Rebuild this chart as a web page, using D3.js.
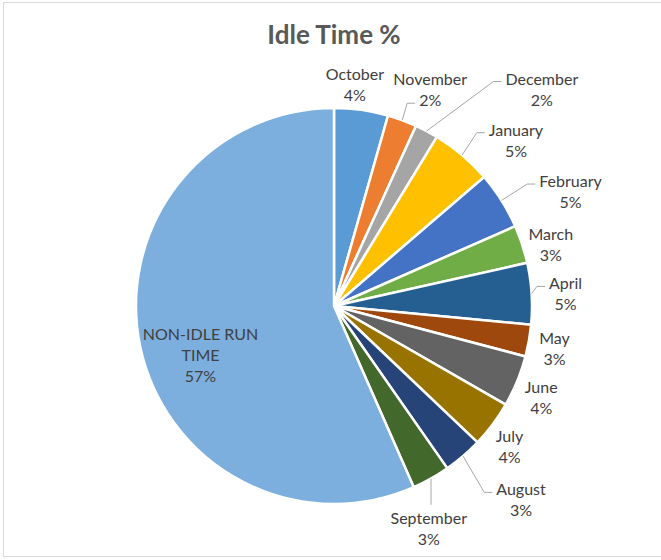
<!DOCTYPE html>
<html>
<head>
<meta charset="utf-8">
<script src="https://cdn.jsdelivr.net/npm/d3@7"></script>
<style>
  body { margin: 0; background: #fff; }
  .lbl { font-family: Lato, "Open Sans", sans-serif; font-size: 16px; fill: #404040; }
</style>
</head>
<body>
<div class="chart"></div>
<script>
// data (percent of total time)
var categories = ['October', 'November', 'December', 'January', 'February', 'March',
    'April', 'May', 'June', 'July', 'August', 'September', 'NON-IDLE RUN TIME'];
var values = [4.4, 2.4, 1.9, 5.0, 4.7, 3.1, 5.0, 2.6, 4.2, 3.8, 3.2, 3.1, 56.6];
var colors = ['#5B9BD5', '#ED7D31', '#A5A5A5', '#FFC000', '#4472C4', '#70AD47',
    '#255E91', '#9E480E', '#636363', '#997300', '#264478', '#43682B', '#7CAFDD'];

// label nudges (layout only), dx/dy from default radial spot
var labelShift = [[-10, 0], [19, -6], [103, -19], [37, 5], [47, 5], [4, 8],
    [8, 2], [0, 3], [0, 6], [-4, 7], [41, 24], [-15, 27], [6, 20]];

var svgWidth = 661;
var svgHeight = 560;
var cx = 334, cy = 306, radius = 198;

var svg = d3.select('.chart')
    .append('svg')
    .attr('width', svgWidth)
    .attr('height', svgHeight);

// chart frame
svg.append('rect')
    .attr('x', 3.5).attr('y', 2.5)
    .attr('width', 670).attr('height', 554)
    .attr('fill', 'none')
    .attr('stroke', '#D9D9D9');

// title
svg.append('text')
    .attr('x', cx)
    .attr('y', 44)
    .attr('text-anchor', 'middle')
    .style('font-family', 'Lato, "Open Sans", sans-serif')
    .style('font-weight', 'bold')
    .style('font-size', '26px')
    .style('fill', '#595959')
    .text('Idle Time %');

var pie = d3.pie().sort(null).value(function(d) { return d; });
var arcs = pie(values);
var arc = d3.arc().innerRadius(0).outerRadius(radius);

var chart = svg.append('g')
    .attr('transform', 'translate(' + cx + ',' + cy + ')');

chart.selectAll('path')
    .data(arcs)
    .enter()
    .append('path')
    .attr('d', arc)
    .attr('fill', function(d, i) { return colors[i]; })
    .attr('stroke', '#fff')
    .attr('stroke-width', 2.5)
    .attr('stroke-linejoin', 'round');

var total = d3.sum(values);
var lineH = 21;

function midAngle(d) { return (d.startAngle + d.endAngle) / 2; }

// labels
var labels = chart.append('g');
arcs.forEach(function(d, i) {
    var a = midAngle(d);
    var inside = i === arcs.length - 1;
    var r = inside ? radius * 0.72 : 224;
    var x = Math.sin(a) * r + labelShift[i][0];
    var y = -Math.cos(a) * r + labelShift[i][1];

    // wrap the name
    var lines = [];
    var g = labels.append('g');
    var tmp = g.append('text').attr('class', 'lbl');
    var words = categories[i].split(' ');
    var cur = '';
    words.forEach(function(w) {
        var test = cur ? cur + ' ' + w : w;
        tmp.text(test);
        if (cur && tmp.node().getComputedTextLength() > 125) {
            lines.push(cur);
            cur = w;
        } else {
            cur = test;
        }
    });
    lines.push(cur);
    tmp.remove();
    lines.push(Math.round(d.value / total * 100) + '%');

    var top = y - (lines.length - 1) * lineH / 2;
    var widths = [];
    lines.forEach(function(t, k) {
        var tx = g.append('text')
            .attr('class', 'lbl')
            .attr('x', x)
            .attr('y', top + k * lineH + 6)
            .attr('text-anchor', 'middle')
            .text(t);
        widths.push(tx.node().getComputedTextLength());
    });

    // leader line when label sits away from its slice
    if (inside) return;
    var sx = Math.sin(a) * radius, sy = -Math.cos(a) * radius;
    var dist = Math.sqrt(x * x + y * y);
    if (dist < 229) return;
    var boxLeft = x - d3.max(widths) / 2;
    var boxTop = top - 10;
    var pts;
    if (sy < boxTop - 8 && sx > boxLeft) {
        pts = [[sx, sy], [sx, boxTop - 3]];
    } else if (sx < boxLeft - 4) {
        var ex = boxLeft - 4, ey = top + 3;
        pts = [[sx, sy], [ex - 8, ey], [ex, ey]];
    } else {
        var ex2 = x - widths[1] / 2 - 4, ey2 = top + lineH + 3;
        pts = [[sx, sy], [ex2 - 8, ey2], [ex2, ey2]];
    }
    labels.append('path')
        .attr('d', d3.line()(pts))
        .attr('fill', 'none')
        .attr('stroke', '#A6A6A6')
        .attr('stroke-width', 1);
});
</script>
</body>
</html>
